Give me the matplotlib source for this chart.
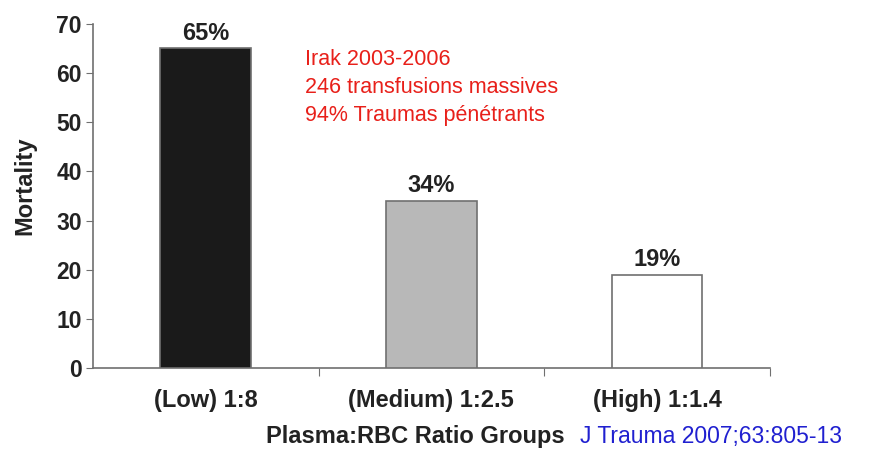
import numpy as np
import matplotlib
matplotlib.use("Agg")
import matplotlib.pyplot as plt

# data
groups = ["(Low) 1:8", "(Medium) 1:2.5", "(High) 1:1.4"]
mortality = [65, 34, 19]
bar_colors = ["#1a1a1a", "#b8b8b8", "#ffffff"]
yticks = [0, 10, 20, 30, 40, 50, 60, 70]
notes = ["Irak 2003-2006", "246 transfusions massives", "94% Traumas pénétrants"]

plt.rcParams["font.family"] = ["Liberation Sans", "DejaVu Sans"]
dark = "#222222"
grey = "#707070"

fig = plt.figure(figsize=(8.75, 4.5), dpi=100)
ax = fig.add_axes([0.106, 0.182, 0.774, 0.765])

x = np.arange(len(groups))
ax.bar(x, mortality, width=0.4, color=bar_colors, edgecolor=grey, linewidth=1.2, zorder=3)

# percentage labels on top of the bars
for xi, v in zip(x, mortality):
    ax.text(xi, v + 0.7, f"{v}%", ha="center", va="bottom", fontsize=17, fontweight="bold", color=dark)

ax.set_xlim(-0.5, 2.5)
ax.set_ylim(0, 70)
ax.set_yticks(yticks)
ax.set_yticklabels([str(t) for t in yticks], fontsize=16.5, fontweight="bold", color=dark)

# category ticks sit between the groups, labels in the middle
ax.set_xticks([0.5, 1.5, 2.5])
ax.set_xticklabels([])
ax.tick_params(axis="x", direction="out", length=6, color=grey)
ax.tick_params(axis="y", direction="out", length=5, color=grey, pad=3)
for xi, g in zip(x, groups):
    ax.text(xi, -6.6, g, ha="center", va="center", fontsize=17, fontweight="bold", color=dark)

for side in ["top", "right"]:
    ax.spines[side].set_visible(False)
for side in ["left", "bottom"]:
    ax.spines[side].set_color(grey)
    ax.spines[side].set_linewidth(1.2)

ax.set_ylabel("Mortality", fontsize=17, fontweight="bold", color=dark)
ax.yaxis.set_label_coords(-0.083, 0.53)

fig.text(0.475, 0.029, "Plasma:RBC Ratio Groups", ha="center", va="center",
         fontsize=17, fontweight="bold", color=dark)
fig.text(0.663, 0.029, "J Trauma 2007;63:805-13", ha="left", va="center",
         fontsize=16.5, color="#2020d0")

for i, line in enumerate(notes):
    fig.text(0.349, 0.867 - i * 0.062, line, ha="left", va="center", fontsize=15.5, color="#e8201a")

fig.savefig("out.png", dpi=100)
